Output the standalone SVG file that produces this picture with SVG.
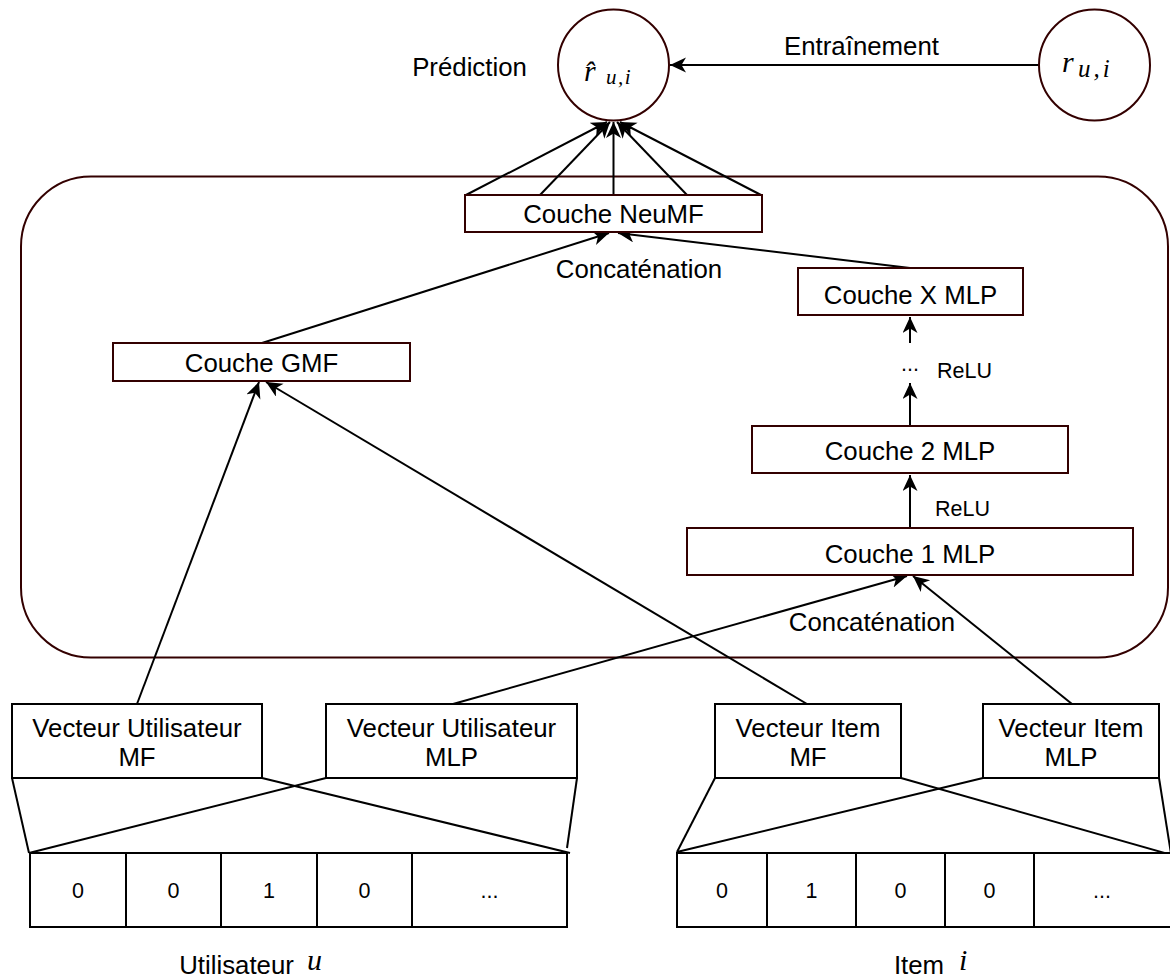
<svg xmlns="http://www.w3.org/2000/svg" width="1170" height="977" viewBox="0 0 1170 977">
<style>
.bg{fill:#ffffff}
.node{fill:#ffffff;stroke:#330000;stroke-width:2}
.vec{fill:#ffffff;stroke:#000000;stroke-width:2}
.edge{fill:none;stroke:#000000;stroke-width:2}
.arr{fill:none;stroke:#000000;stroke-width:2;marker-end:url(#ah)}
.t{font-family:"Liberation Sans",Arial,sans-serif;font-size:25.8px;fill:#000000;text-anchor:middle}
.s{font-family:"Liberation Sans",Arial,sans-serif;font-size:21.5px;fill:#000000;text-anchor:middle}
.m{font-family:"Liberation Serif","Times New Roman",serif;font-style:italic;fill:#000000}
</style>
<defs>
<marker id="ah" markerUnits="userSpaceOnUse" markerWidth="17" markerHeight="16" refX="16" refY="7.5" orient="auto">
<path d="M0,0 L16,7.5 L0,15 L4.5,7.5 Z" fill="#000000"/>
</marker>
</defs>
<rect class="bg" x="0" y="0" width="1170" height="977"/>

<g id="container">
<rect class="node" x="21" y="176.5" width="1147" height="481" rx="70" ry="70"/>
</g>

<g id="connectors">
<line class="arr" x1="1039" y1="65" x2="670" y2="65"/>
<line class="arr" x1="466" y1="195" x2="607" y2="122"/>
<line class="arr" x1="540" y1="195" x2="610" y2="122"/>
<line class="arr" x1="613.5" y1="195" x2="613.5" y2="122"/>
<line class="arr" x1="687" y1="195" x2="617" y2="122"/>
<line class="arr" x1="761" y1="195" x2="620" y2="122"/>
<line class="arr" x1="262" y1="343" x2="609" y2="233"/>
<line class="arr" x1="910" y1="268" x2="618" y2="233"/>
<line class="arr" x1="910" y1="343" x2="910" y2="317"/>
<line class="arr" x1="910" y1="426" x2="910" y2="383"/>
<line class="arr" x1="910" y1="528" x2="910" y2="475"/>
<line class="arr" x1="453" y1="704" x2="907" y2="576"/>
<line class="arr" x1="1072" y1="704" x2="913" y2="576"/>
<line class="arr" x1="137" y1="704" x2="259" y2="382"/>
<line class="arr" x1="807" y1="704" x2="266" y2="382"/>
<line class="edge" x1="12" y1="778" x2="29" y2="853"/>
<line class="edge" x1="326" y1="778" x2="29" y2="853"/>
<line class="edge" x1="262" y1="778" x2="570" y2="853"/>
<line class="edge" x1="577" y1="778" x2="567" y2="848"/>
<line class="edge" x1="715" y1="778" x2="677" y2="852"/>
<line class="edge" x1="983" y1="778" x2="677" y2="852"/>
<line class="edge" x1="901" y1="778" x2="1172" y2="855"/>
<line class="edge" x1="1159" y1="778" x2="1172" y2="860"/>
</g>

<g id="prediction">
<circle class="node" cx="613.5" cy="65" r="55.5"/>
<text class="m" x="584" y="81" font-size="30">r̂</text>
<text class="m" x="606" y="84" font-size="21" letter-spacing="1.5">u,i</text>
</g>
<text id="label-prediction" class="t" x="469.5" y="76">Prédiction</text>

<g id="rating">
<circle class="node" cx="1094.5" cy="65" r="55.5"/>
<text class="m" x="1062" y="72" font-size="30">r</text>
<text class="m" x="1078" y="77" font-size="25" letter-spacing="3">u,i</text>
</g>
<text id="label-training" class="t" x="861.5" y="55">Entraînement</text>

<g id="neumf">
<rect class="node" x="465" y="195" width="297" height="37"/>
<text class="t" x="613.5" y="223">Couche NeuMF</text>
</g>
<text id="label-concat1" class="t" x="639" y="278">Concaténation</text>

<g id="gmf">
<rect class="node" x="113" y="343" width="297" height="38"/>
<text class="t" x="261.5" y="372">Couche GMF</text>
</g>

<g id="mlpx">
<rect class="node" x="798" y="268" width="225" height="47"/>
<text class="t" x="910.5" y="304">Couche X MLP</text>
</g>
<text id="dots" class="s" x="910" y="371">...</text>
<text id="relu2" class="s" x="964.5" y="378">ReLU</text>

<g id="mlp2">
<rect class="node" x="752" y="426" width="316" height="47"/>
<text class="t" x="910" y="460">Couche 2 MLP</text>
</g>
<text id="relu1" class="s" x="962.5" y="516">ReLU</text>

<g id="mlp1">
<rect class="node" x="687" y="528" width="446" height="47"/>
<text class="t" x="910" y="563">Couche 1 MLP</text>
</g>
<text id="label-concat2" class="t" x="872" y="631">Concaténation</text>

<g id="user-mf">
<rect class="vec" x="12" y="704" width="250" height="74"/>
<text class="t" x="137" y="737">Vecteur Utilisateur</text>
<text class="t" x="137" y="766">MF</text>
</g>
<g id="user-mlp">
<rect class="vec" x="326" y="704" width="251" height="74"/>
<text class="t" x="451.5" y="737">Vecteur Utilisateur</text>
<text class="t" x="451.5" y="766">MLP</text>
</g>
<g id="item-mf">
<rect class="vec" x="715" y="704" width="186" height="74"/>
<text class="t" x="808" y="737">Vecteur Item</text>
<text class="t" x="808" y="766">MF</text>
</g>
<g id="item-mlp">
<rect class="vec" x="983" y="704" width="176" height="74"/>
<text class="t" x="1071" y="737">Vecteur Item</text>
<text class="t" x="1071" y="766">MLP</text>
</g>

<g id="user-onehot">
<rect class="vec" x="30" y="853" width="96" height="74"/>
<rect class="vec" x="126" y="853" width="95" height="74"/>
<rect class="vec" x="221" y="853" width="96" height="74"/>
<rect class="vec" x="317" y="853" width="95" height="74"/>
<rect class="vec" x="412" y="853" width="155" height="74"/>
<text class="s" x="78" y="898">0</text>
<text class="s" x="173.5" y="898">0</text>
<text class="s" x="269" y="898">1</text>
<text class="s" x="364.5" y="898">0</text>
<text class="s" x="489.5" y="898">...</text>
</g>
<g id="item-onehot">
<rect class="vec" x="677" y="853" width="90" height="74"/>
<rect class="vec" x="767" y="853" width="89" height="74"/>
<rect class="vec" x="856" y="853" width="89" height="74"/>
<rect class="vec" x="945" y="853" width="89" height="74"/>
<rect class="vec" x="1034" y="853" width="140" height="74"/>
<text class="s" x="722" y="898">0</text>
<text class="s" x="811.5" y="898">1</text>
<text class="s" x="900.5" y="898">0</text>
<text class="s" x="989.5" y="898">0</text>
<text class="s" x="1102" y="898">...</text>
</g>

<g id="label-user">
<text class="t" x="236.5" y="974">Utilisateur</text>
<text class="m" x="307" y="970" font-size="30">u</text>
</g>
<g id="label-item">
<text class="t" x="919" y="974">Item</text>
<text class="m" x="959" y="970" font-size="30">i</text>
</g>
</svg>
